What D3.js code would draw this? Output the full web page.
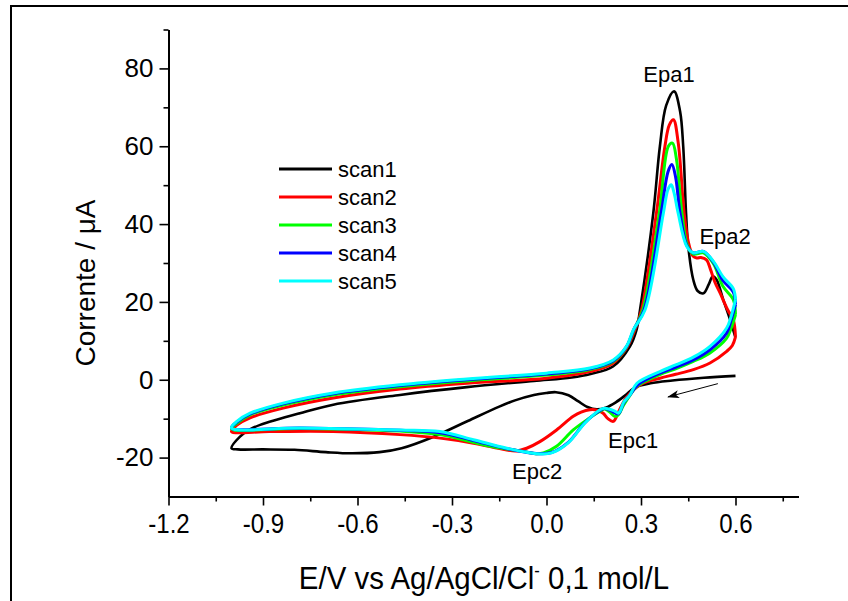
<!DOCTYPE html>
<html>
<head>
<meta charset="utf-8">
<script src="https://cdn.jsdelivr.net/npm/d3@7"></script>
<style>
  body { margin: 0; background: #fff; }
  text { font-family: "Liberation Sans", Arial, sans-serif; fill: #000; }
</style>
</head>
<body>
<div id="chart"></div>
<script>
// cyclic voltammogram, [E (V), I (uA)]
// each scan: cathodic branch from 0.6 V down to -1.0 V, then anodic branch back
var scan1 = [
  [0.60, 1.0], [0.50, 0.5], [0.40, -0.2], [0.33, -0.9], [0.28, -2.0], [0.25, -4.0],
  [0.22, -5.8], [0.19, -7.1], [0.16, -7.6], [0.13, -7.0], [0.10, -5.5], [0.07, -4.0],
  [0.03, -3.2], [0.00, -3.4], [-0.04, -3.9], [-0.10, -5.3], [-0.15, -6.9], [-0.25, -10.6],
  [-0.36, -14.7], [-0.46, -17.6], [-0.53, -18.6], [-0.62, -18.9], [-0.70, -18.6],
  [-0.80, -18.0], [-0.90, -17.9], [-0.98, -17.9], [-1.00, -17.6],
  [-0.973, -14.6], [-0.94, -12.7], [-0.909, -11.6], [-0.783, -8.6], [-0.677, -6.4],
  [-0.465, -3.9], [-0.253, -1.9], [-0.04, -0.3], [0.08, 0.6], [0.14, 1.5], [0.211, 3.4],
  [0.265, 8.6], [0.286, 12.9], [0.297, 18], [0.339, 42.8], [0.36, 60], [0.38, 70.5],
  [0.405, 74.1], [0.424, 69], [0.434, 60], [0.443, 42.8], [0.45, 34.3], [0.466, 25.7],
  [0.48, 22.8], [0.498, 22.2], [0.515, 24.5], [0.528, 26.6], [0.54, 25.7], [0.561, 20.6],
  [0.583, 15.4], [0.60, 10.8]
];
var scan2 = [
  [0.60, 11.0], [0.59, 8.8], [0.572, 7.3], [0.519, 4.3], [0.466, 2.6], [0.41, 1.4],
  [0.36, 0.4], [0.307, -0.9], [0.276, -2.6], [0.25, -5.0], [0.23, -8.0], [0.212, -10.7],
  [0.195, -10.0], [0.18, -8.6], [0.16, -7.8], [0.138, -7.7], [0.11, -8.3], [0.085, -9.4],
  [0.032, -12.9], [-0.021, -15.9], [-0.063, -17.6], [-0.095, -18.3], [-0.13, -18.0],
  [-0.232, -16.3], [-0.338, -15.0], [-0.465, -14.1], [-0.677, -13.3], [-0.88, -13.3],
  [-1.00, -13.3],
  [-0.985, -11.8], [-0.941, -9.8], [-0.836, -7.3], [-0.677, -4.7], [-0.465, -2.4],
  [-0.253, -0.9], [0.0, 0.4], [0.138, 2.1], [0.21, 4.2], [0.254, 8.1], [0.281, 12.9],
  [0.302, 18], [0.349, 42.8], [0.376, 60], [0.39, 65.5], [0.403, 66.8], [0.418, 61],
  [0.437, 42.8], [0.45, 35.5], [0.465, 31.8], [0.477, 31.3], [0.49, 31.4], [0.508, 30.8],
  [0.52, 28.5], [0.535, 25], [0.551, 22.3], [0.575, 18], [0.593, 15.4], [0.60, 11.0]
];
var scan3 = [
  [0.60, 16.7], [0.585, 13.0], [0.572, 10.7], [0.519, 6.9], [0.466, 4.7], [0.41, 2.8],
  [0.36, 1.3], [0.287, -1.7], [0.265, -4.0], [0.245, -6.5], [0.228, -9.0], [0.217, -9.4],
  [0.205, -8.6], [0.185, -7.5], [0.17, -8.1], [0.13, -10.2], [0.085, -12.9], [0.032, -17.1],
  [-0.01, -18.8], [-0.035, -19.0], [-0.074, -18.4], [-0.179, -17.1], [-0.338, -14.1],
  [-0.465, -13.2], [-0.78, -12.5], [-1.00, -12.6],
  [-0.985, -11.3], [-0.941, -9.0], [-0.836, -6.5], [-0.677, -3.9], [-0.465, -1.8],
  [-0.253, -0.3], [0.0, 1.2], [0.138, 2.6], [0.212, 4.7], [0.254, 8.4], [0.278, 12.9],
  [0.306, 18], [0.358, 42.8], [0.387, 60], [0.400, 60.8], [0.412, 57],
  [0.43, 42.8], [0.447, 34.6], [0.466, 32.3], [0.498, 32.6], [0.53, 29.8], [0.56, 24],
  [0.593, 20.6], [0.60, 16.7]
];
var scan4 = [
  [0.60, 19.3], [0.585, 15.0], [0.572, 12.0], [0.519, 7.7], [0.466, 5.1], [0.41, 3.2],
  [0.36, 1.7], [0.29, -1.3], [0.265, -3.9], [0.245, -6.0], [0.232, -8.4], [0.225, -8.8],
  [0.21, -8.2], [0.185, -7.4], [0.17, -7.9], [0.122, -11.0], [0.07, -16.0], [0.016, -18.7],
  [-0.025, -19.0], [-0.126, -17.7], [-0.232, -15.6], [-0.338, -13.6], [-0.465, -13.0],
  [-0.78, -12.4], [-1.00, -12.4],
  [-0.985, -11.0], [-0.941, -8.8], [-0.836, -6.2], [-0.677, -3.6], [-0.465, -1.5],
  [-0.253, 0.0], [0.0, 1.5], [0.138, 2.8], [0.212, 4.9], [0.254, 8.5], [0.277, 12.9],
  [0.31, 18], [0.364, 42.8], [0.386, 53.5], [0.398, 55.3], [0.41, 52],
  [0.424, 42.8], [0.446, 34.4], [0.466, 32.6], [0.498, 33.0], [0.53, 30.2], [0.56, 25.5],
  [0.593, 22.5], [0.60, 19.3]
];
var scan5 = [
  [0.60, 20.6], [0.585, 16.0], [0.572, 13.3], [0.519, 8.6], [0.466, 5.8], [0.41, 3.8],
  [0.36, 2.1], [0.287, -0.9], [0.265, -3.9], [0.245, -5.8], [0.234, -8.0], [0.228, -8.6],
  [0.215, -8.0], [0.185, -7.3], [0.17, -7.7], [0.122, -11.1], [0.068, -16.3], [0.016, -18.8],
  [-0.03, -19.0], [-0.126, -17.6], [-0.232, -15.4], [-0.338, -13.3], [-0.465, -12.9],
  [-0.78, -12.4], [-1.00, -12.4],
  [-0.983, -10.7], [-0.941, -8.6], [-0.836, -6.0], [-0.677, -3.4], [-0.465, -1.3],
  [-0.253, 0.2], [0.0, 1.7], [0.138, 3.0], [0.212, 5.1], [0.254, 8.6], [0.276, 12.9],
  [0.313, 18], [0.371, 42.8], [0.386, 49], [0.396, 50.1], [0.405, 48],
  [0.418, 42.8], [0.445, 34.3], [0.466, 32.6], [0.498, 33.0], [0.53, 30.4], [0.56, 26.5],
  [0.593, 23.4], [0.60, 20.6]
];

var scanNames = ["scan1", "scan2", "scan3", "scan4", "scan5"];
var scanColors = ["#000000", "#ff0000", "#00ff00", "#0000ff", "#00ffff"];
var scans = [scan1, scan2, scan3, scan4, scan5];

var xTicks = [-1.2, -0.9, -0.6, -0.3, 0.0, 0.3, 0.6];
var xMinor = [-1.05, -0.75, -0.45, -0.15, 0.15, 0.45, 0.75];
var yTicks = [-20, 0, 20, 40, 60, 80];
var yMinor = [-10, 10, 30, 50, 70, 90];

// peak labels (E, I at text baseline) and the sweep-direction arrow
var peakNames = ["Epa1", "Epa2", "Epc1", "Epc2"];
var peakE = [0.389, 0.567, 0.275, -0.03];
var peakI = [76.6, 35.0, -17.5, -25.4];
var arrowFrom = [0.544, -1.0];
var arrowTo = [0.386, -4.4];

var svgWidth = 848, svgHeight = 601;

var svg = d3.select("#chart")
  .append("svg")
  .attr("width", svgWidth)
  .attr("height", svgHeight);

// outer frame (only top and left edges fall inside the picture)
svg.append("rect")
  .attr("x", 11).attr("y", 6)
  .attr("width", 860).attr("height", 620)
  .attr("fill", "none")
  .attr("stroke", "#000")
  .attr("stroke-width", 2);

var xScale = d3.scaleLinear().domain([-1.2, 0.8]).range([168.5, 798.5]);
var yScale = d3.scaleLinear().domain([-30, 90]).range([496.5, 29.5]);

var xAxis = svg.append("g")
  .attr("transform", "translate(0," + yScale(-30) + ")")
  .call(d3.axisBottom(xScale).tickValues(xTicks).tickSize(9).tickSizeOuter(0)
    .tickPadding(8).tickFormat(function(d) { return d.toFixed(1); }));
svg.append("g")
  .attr("transform", "translate(0," + yScale(-30) + ")")
  .call(d3.axisBottom(xScale).tickValues(xMinor).tickSize(5).tickSizeOuter(0).tickFormat(""))
  .select(".domain").remove();

var yAxis = svg.append("g")
  .attr("transform", "translate(" + xScale(-1.2) + ",0)")
  .call(d3.axisLeft(yScale).tickValues(yTicks).tickSize(9).tickSizeOuter(0)
    .tickPadding(6).tickFormat(function(d) { return String(d); }));
svg.append("g")
  .attr("transform", "translate(" + xScale(-1.2) + ",0)")
  .call(d3.axisLeft(yScale).tickValues(yMinor).tickSize(5).tickSizeOuter(0).tickFormat(""))
  .select(".domain").remove();

svg.selectAll(".domain").attr("stroke-width", 2);
svg.selectAll(".tick line").attr("stroke-width", 1.6);
svg.selectAll(".tick text")
  .attr("font-family", null).attr("font-size", null)
  .style("font-family", "'Liberation Sans', Arial, sans-serif")
  .style("font-size", "26px");
// the x labels are a little narrow in the original
xAxis.selectAll(".tick text")
  .style("font-size", "28px")
  .attr("transform", "scale(0.86,1)");

// axis titles
svg.append("text")
  .attr("transform", "translate(484,589) scale(0.92,1)")
  .attr("text-anchor", "middle")
  .style("font-size", "32px")
  .html("E/V vs Ag/AgCl/Cl<tspan dy='-12' font-size='18'>-</tspan><tspan dy='12'> 0,1 mol/L</tspan>");

svg.append("text")
  .attr("transform", "translate(95,283) rotate(-90)")
  .attr("text-anchor", "middle")
  .style("font-size", "28px")
  .text("Corrente / \u03bcA");

// curves
var line = d3.line()
  .x(function(d) { return xScale(d[0]); })
  .y(function(d) { return yScale(d[1]); })
  .curve(d3.curveCatmullRom.alpha(0.5));

svg.selectAll(".scan")
  .data(scans)
  .enter().append("path")
  .attr("class", "scan")
  .attr("d", line)
  .attr("fill", "none")
  .attr("stroke", function(d, i) { return scanColors[i]; })
  .attr("stroke-width", function(d, i) { return i == 0 ? 2.6 : 3; })
  .attr("stroke-linejoin", "round");

// legend
var legend = svg.selectAll(".legend")
  .data(scanNames)
  .enter().append("g")
  .attr("class", "legend")
  .attr("transform", function(d, i) { return "translate(279," + (169 + i * 28) + ")"; });
legend.append("line")
  .attr("x1", 0).attr("x2", 53)
  .attr("stroke", function(d, i) { return scanColors[i]; })
  .attr("stroke-width", 3);
legend.append("text")
  .attr("x", 59).attr("dy", "0.35em")
  .style("font-size", "22px")
  .text(function(d) { return d; });

// peak labels
svg.selectAll(".peak")
  .data(peakNames)
  .enter().append("text")
  .attr("class", "peak")
  .attr("x", function(d, i) { return xScale(peakE[i]); })
  .attr("y", function(d, i) { return yScale(peakI[i]); })
  .attr("text-anchor", "middle")
  .style("font-size", "22px")
  .text(function(d) { return d; });

// sweep direction arrow
svg.append("defs").append("marker")
  .attr("id", "head")
  .attr("viewBox", "0 0 12 8")
  .attr("refX", 11).attr("refY", 4)
  .attr("markerWidth", 12).attr("markerHeight", 8)
  .attr("markerUnits", "userSpaceOnUse")
  .attr("orient", "auto")
  .append("path")
  .attr("d", "M0,0 L12,4 L0,8 L3,4 Z")
  .attr("fill", "#000");

svg.append("line")
  .attr("x1", xScale(arrowFrom[0])).attr("y1", yScale(arrowFrom[1]))
  .attr("x2", xScale(arrowTo[0])).attr("y2", yScale(arrowTo[1]))
  .attr("stroke", "#000")
  .attr("stroke-width", 1)
  .attr("marker-end", "url(#head)");
</script>
</body>
</html>
